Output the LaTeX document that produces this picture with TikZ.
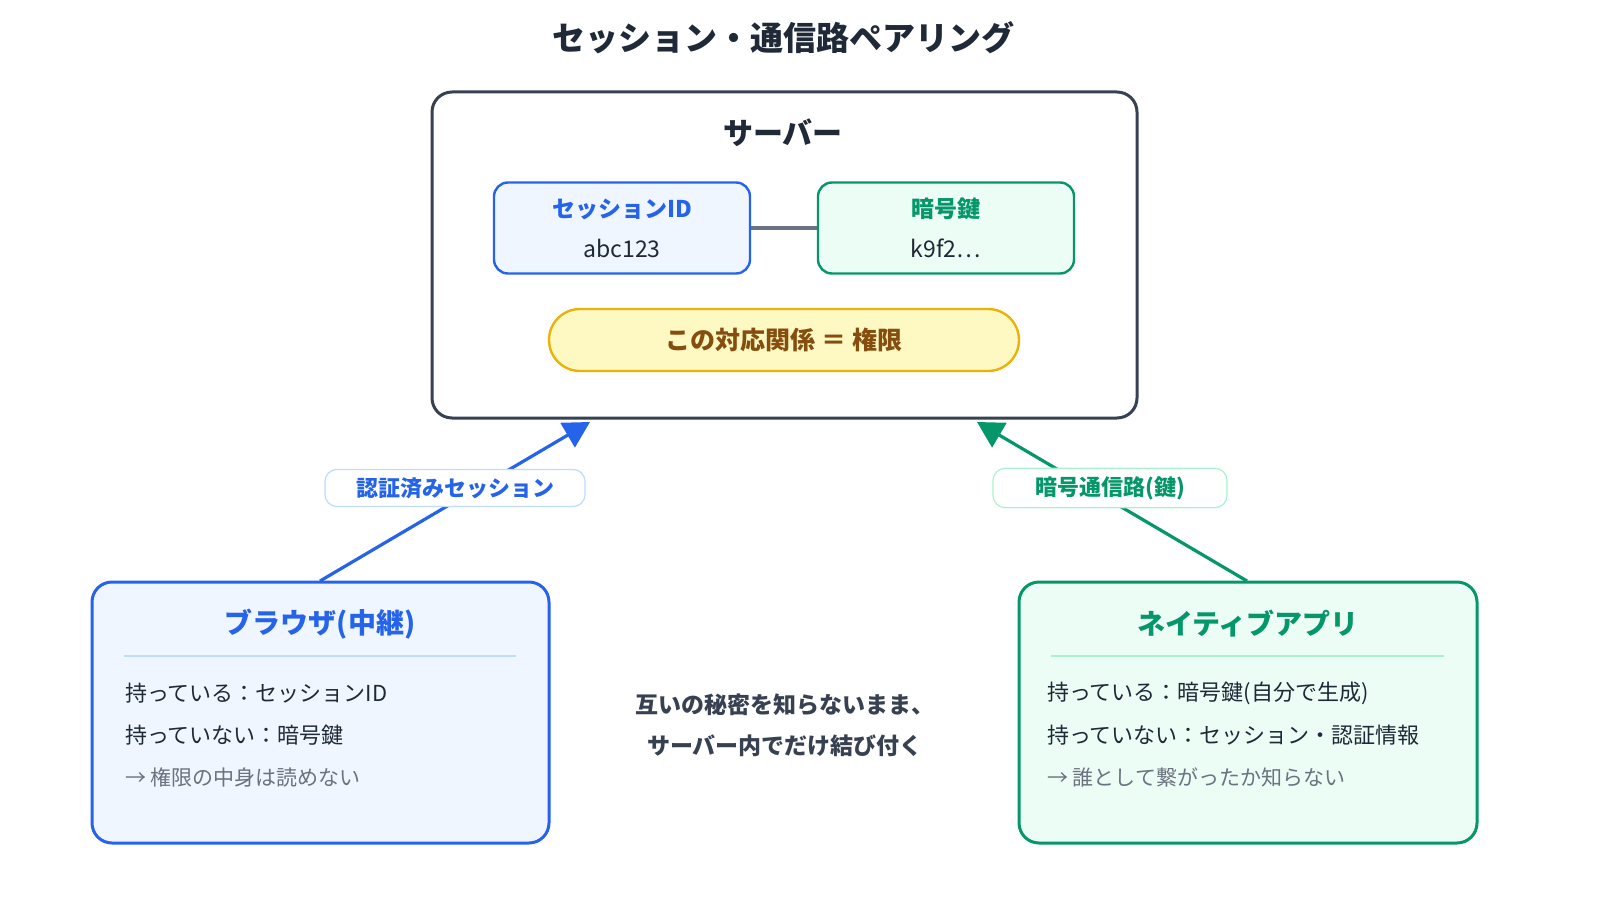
\documentclass[tikz,border=0pt]{standalone}
\usepackage{fontspec}
\setmainfont{Noto Sans CJK JP}
\usetikzlibrary{arrows.meta,positioning}
\definecolor{cBlue}{HTML}{2563EB}
\definecolor{cBlueBg}{HTML}{EFF6FF}
\definecolor{cBlueLt}{HTML}{BFDBFE}
\definecolor{cGreen}{HTML}{059669}
\definecolor{cGreenBg}{HTML}{ECFDF5}
\definecolor{cGreenLt}{HTML}{A7F3D0}
\definecolor{cDark}{HTML}{374151}
\definecolor{cText}{HTML}{1F2937}
\definecolor{cGray}{HTML}{6B7280}
\definecolor{cYel}{HTML}{FEF9C3}
\definecolor{cYelB}{HTML}{EAB308}
\definecolor{cBrown}{HTML}{854D0E}
\tikzset{
  box/.style={draw, rounded corners=10pt, line width=1.5pt},
  small/.style={draw, rounded corners=7pt, line width=1.2pt, minimum width=128pt, minimum height=45.5pt},
  tag/.style={draw, fill=white, rounded corners=6pt, line width=0.6pt, inner sep=4pt, font=\fontsize{11}{13}\selectfont\bfseries},
  body/.style={anchor=west, text=cText, font=\fontsize{11}{13}\selectfont},
  link/.style={line width=1.6pt, -{Triangle[length=13pt,width=14pt]}}
}
\begin{document}
\begin{tikzpicture}[x=0.5pt,y=-0.5pt]
\useasboundingbox (0,0) rectangle (1600,920);

% title
\node (title) at (783,38) [font=\fontsize{16.5}{19}\selectfont\bfseries, text=cText] {セッション・通信路ペアリング};

% server
\draw [box, draw=cDark] (432,92) rectangle (1137,418);
\coordinate (srvL) at (590,422);
\coordinate (srvR) at (977,422);
\node (srvTitle) at (783,133) [font=\fontsize{15}{18}\selectfont\bfseries, text=cText] {サーバー};
\node (sid) at (622,228) [small, draw=cBlue, fill=cBlueBg, align=center, font=\fontsize{11.5}{18}\selectfont]
  {\textcolor{cBlue}{\bfseries セッションID}\\[2pt]\textcolor{cText}{abc123}};
\node (key) at (946,228) [small, draw=cGreen, fill=cGreenBg, align=center, font=\fontsize{11.5}{18}\selectfont]
  {\textcolor{cGreen}{\bfseries 暗号鍵}\\[2pt]\textcolor{cText}{k9f2…}};
\draw [line width=2pt, draw=cGray] (sid) -- (key);
\node (perm) at (784,340) [draw=cYelB, fill=cYel, line width=1.2pt, rounded corners=15.5pt, minimum width=235pt, minimum height=31pt, text=cBrown, font=\fontsize{12.5}{15}\selectfont\bfseries] {この対応関係 ＝ 権限};

% browser
\draw [box, draw=cBlue, fill=cBlueBg] (92,582) rectangle (549,843);
\coordinate (brw) at (320,581);
\node (brwTitle) at (320,624) [text=cBlue, font=\fontsize{14}{16}\selectfont\bfseries] {ブラウザ(中継)};
\draw [draw=cBlueLt, line width=1pt] (124,656) -- (516,656);
\node (brw1) at (118,693) [body] {持っている：セッションID};
\node (brw2) at (118,735) [body] {持っていない：暗号鍵};
\node (brw3) at (118,777) [body, text=cGray, font=\fontsize{10.5}{13}\selectfont] {→ 権限の中身は読めない};

% native app
\draw [box, draw=cGreen, fill=cGreenBg] (1019,582) rectangle (1477,843);
\coordinate (app) at (1247,581);
\node (appTitle) at (1248,624) [text=cGreen, font=\fontsize{14}{16}\selectfont\bfseries] {ネイティブアプリ};
\draw [draw=cGreenLt, line width=1pt] (1051,656) -- (1444,656);
\node (app1) at (1040,693) [body] {持っている：暗号鍵(自分で生成)};
\node (app2) at (1040,735) [body] {持っていない：セッション・認証情報};
\node (app3) at (1040,777) [body, text=cGray, font=\fontsize{10.5}{13}\selectfont] {→ 誰として繋がったか知らない};

% connectors
\draw [link, draw=cBlue, fill=cBlue] (brw) -- (srvL);
\draw [link, draw=cGreen, fill=cGreen] (app) -- (srvR);
\node (tagL) at (455,488) [tag, draw=cBlueLt, text=cBlue, minimum width=130pt] {認証済みセッション};
\node (tagR) at (1110,488) [tag, draw=cGreenLt, text=cGreen, minimum width=117pt] {暗号通信路(鍵)};

% note
\node (note) at (785,725) [align=center, text=cDark, font=\fontsize{11.5}{20.5}\selectfont\bfseries] {互いの秘密を知らないまま、\\サーバー内でだけ結び付く};
\end{tikzpicture}
\end{document}
